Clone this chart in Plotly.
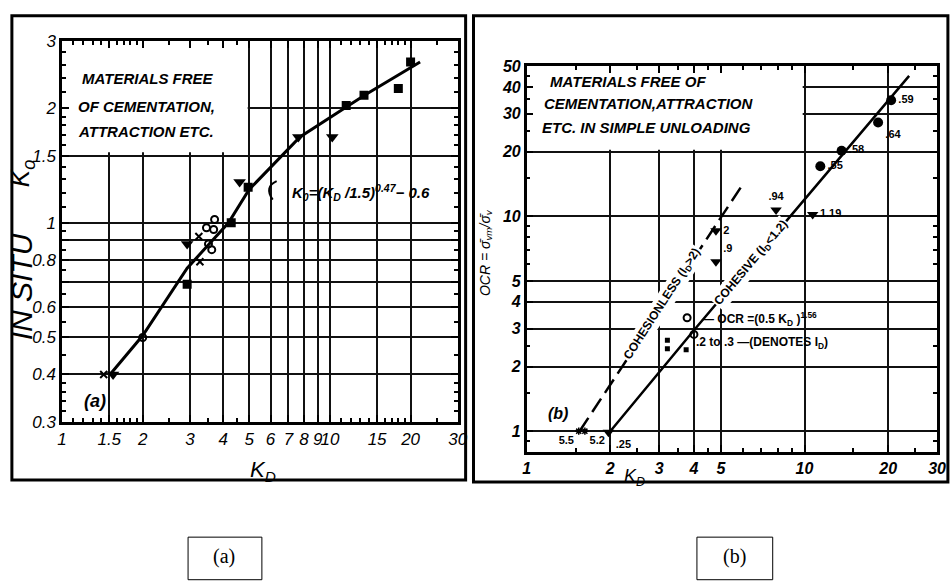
import numpy as np
import plotly.graph_objects as go

W, H = 952, 581

# ---------------- Panel (a) data ----------------
a_line_kd = [1.51, 2.0, 2.93, 4.18, 4.98, 7.73, 11.1, 13.6, 21.7]
a_line_k0 = [0.40, 0.506, 0.76, 1.0, 1.22, 1.68, 1.98, 2.17, 2.64]
a_sq_kd = [2.93, 4.28, 4.95, 11.5, 13.4, 18.0, 20.0]
a_sq_k0 = [0.69, 1.0, 1.24, 2.03, 2.16, 2.25, 2.64]
a_tri_kd = [2.93, 4.6, 7.62, 10.2, 1.55]
a_tri_k0 = [0.88, 1.28, 1.68, 1.68, 0.40]
a_circ_kd = [2.0, 3.46, 3.68, 3.62, 3.52, 3.71]
a_circ_k0 = [0.5, 0.97, 0.96, 0.85, 0.88, 1.02]
a_x_kd = [1.43, 3.27, 3.24]
a_x_k0 = [0.40, 0.79, 0.92]

a_xticks = [1, 1.5, 2, 3, 4, 5, 6, 7, 8, 9, 10, 15, 20, 30]
a_xtext = ["1", "1.5", "2", "3", "4", "5", "6", "7", "8", "9", "10", "15", "20", "30"]
a_yticks = [0.3, 0.4, 0.5, 0.6, 0.7, 0.8, 0.9, 1, 1.5, 2, 3]
a_ytext = ["0.3", "0.4", "0.5", "0.6", "", "0.8", "", "1", "1.5", "2", "3"]
a_xminor = [1.1, 1.2, 1.3, 1.4, 1.6, 1.7, 1.8, 1.9, 2.5, 3.5, 4.5, 11, 12, 13, 14, 16, 17, 18, 19, 25]
a_yminor = [0.32, 0.34, 0.36, 0.38, 0.45, 0.55, 0.65, 0.75, 0.85, 0.95, 1.1, 1.2, 1.3, 1.4, 1.6, 1.7, 1.8, 1.9, 2.2, 2.4, 2.6, 2.8]

# ---------------- Panel (b) data ----------------
b_cohesive_kd = [2.0, 4.0, 23.8]
b_cohesive_ocr = [1.0, 2.95, 45.0]
b_cohesionless_kd = [1.55, 6.0]
b_cohesionless_ocr = [1.0, 14.1]
b_circ_kd = [20.5, 18.4, 13.6, 11.4]
b_circ_ocr = [34.7, 27.3, 20.2, 17.1]
b_circ_lab = [".59", ".64", ".58", ".55"]
b_circ_pos = ["middle right", "bottom right", "middle right", "middle right"]
b_tri_kd = [10.7, 7.9, 4.8, 4.8, 1.97]
b_tri_ocr = [10.2, 10.7, 8.56, 6.14, 0.99]
b_tri_lab = ["1.19", ".94", "2", ".9", ".25"]
b_tri_pos = ["middle right", "top center", "middle right", "top right", "bottom right"]
b_open_kd = [3.78, 4.0]
b_open_ocr = [3.37, 2.82]
b_sq_kd = [3.21, 3.21, 3.75]
b_sq_ocr = [2.65, 2.42, 2.39]
b_star_kd = [1.54, 1.62]
b_star_ocr = [1.0, 1.0]
b_star_lab = ["5.5", "5.2"]
b_star_pos = ["bottom left", "bottom right"]

b_xticks = [1, 2, 3, 4, 5, 10, 20, 30]
b_xtext = ["1", "2", "3", "4", "5", "10", "20", "30"]
b_yticks = [1, 2, 3, 4, 5, 10, 20, 30, 40, 50]
b_ytext = ["1", "2", "3", "4", "5", "10", "20", "30", "40", "50"]
b_xminor = [1.5, 2.5, 3.5, 4.5, 6, 7, 8, 9, 15, 25]
b_yminor = [0.9, 1.5, 2.5, 6, 7, 8, 9, 15, 25, 35, 45]

FONT = "Liberation Sans"


def px(x):
    return x / W


def py(y):
    return 1 - y / H


fig = go.Figure()

# Panel (a) traces
fig.add_trace(go.Scatter(x=a_line_kd, y=a_line_k0, mode="lines",
                         line=dict(color="black", width=3), xaxis="x", yaxis="y"))
fig.add_trace(go.Scatter(x=a_sq_kd, y=a_sq_k0, mode="markers",
                         marker=dict(symbol="square", size=9, color="black"), xaxis="x", yaxis="y"))
fig.add_trace(go.Scatter(x=a_tri_kd, y=a_tri_k0, mode="markers",
                         marker=dict(symbol="triangle-down", size=11, color="black"), xaxis="x", yaxis="y"))
fig.add_trace(go.Scatter(x=a_circ_kd, y=a_circ_k0, mode="markers",
                         marker=dict(symbol="circle-open", size=7, color="black", line=dict(width=2)),
                         xaxis="x", yaxis="y"))
fig.add_trace(go.Scatter(x=a_x_kd, y=a_x_k0, mode="markers",
                         marker=dict(symbol="x-thin-open", size=7, color="black", line=dict(width=2)),
                         xaxis="x", yaxis="y"))

# Panel (b) traces
fig.add_trace(go.Scatter(x=b_cohesionless_kd, y=b_cohesionless_ocr, mode="lines",
                         line=dict(color="black", width=2.5, dash="16px,7px"), xaxis="x2", yaxis="y2"))
fig.add_trace(go.Scatter(x=b_cohesive_kd, y=b_cohesive_ocr, mode="lines",
                         line=dict(color="black", width=2.5), xaxis="x2", yaxis="y2"))
lab_font = dict(family=FONT, size=11, color="black", weight="bold")
fig.add_trace(go.Scatter(x=b_circ_kd, y=b_circ_ocr, mode="markers+text", text=b_circ_lab,
                         textposition=b_circ_pos, textfont=lab_font,
                         marker=dict(symbol="circle", size=10, color="black"), xaxis="x2", yaxis="y2"))
fig.add_trace(go.Scatter(x=b_tri_kd, y=b_tri_ocr, mode="markers+text", text=b_tri_lab,
                         textposition=b_tri_pos, textfont=lab_font,
                         marker=dict(symbol="triangle-down", size=10, color="black"), xaxis="x2", yaxis="y2"))
fig.add_trace(go.Scatter(x=b_open_kd, y=b_open_ocr, mode="markers",
                         marker=dict(symbol="circle-open", size=7, color="black", line=dict(width=2)),
                         xaxis="x2", yaxis="y2"))
fig.add_trace(go.Scatter(x=b_sq_kd, y=b_sq_ocr, mode="markers",
                         marker=dict(symbol="square", size=5, color="black"), xaxis="x2", yaxis="y2"))
fig.add_trace(go.Scatter(x=b_star_kd, y=b_star_ocr, mode="markers+text", text=b_star_lab,
                         textposition=b_star_pos, textfont=lab_font,
                         marker=dict(symbol="asterisk-open", size=6, color="black", line=dict(width=1.5)),
                         xaxis="x2", yaxis="y2"))

tickfont_a = dict(family=FONT, size=17, color="black", style="italic")
tickfont_b = dict(family=FONT, size=16, color="black", style="italic", weight="bold")
common = dict(type="log", showline=True, linecolor="black", linewidth=2.5, mirror="allticks",
              ticks="inside", ticklen=7, tickwidth=1.5, tickcolor="black", tickangle=0,
              showgrid=True, gridcolor="#111", gridwidth=1.6, zeroline=False, tickmode="array")

fig.update_layout(
    width=W, height=H, margin=dict(l=0, r=0, t=0, b=0),
    paper_bgcolor="white", plot_bgcolor="white", showlegend=False,
    xaxis=dict(common, domain=[px(58), px(460)], range=[0, np.log10(30)], anchor="y",
               tickvals=a_xticks, ticktext=a_xtext, tickfont=tickfont_a,
               minor=dict(tickmode="array", tickvals=a_xminor, ticks="inside", ticklen=4,
                          tickcolor="black", showgrid=False)),
    yaxis=dict(common, domain=[py(427), py(33)], range=[np.log10(0.3), np.log10(3)], anchor="x",
               tickvals=a_yticks, ticktext=a_ytext, tickfont=tickfont_a,
               minor=dict(tickmode="array", tickvals=a_yminor, ticks="inside", ticklen=4,
                          tickcolor="black", showgrid=False)),
    xaxis2=dict(common, domain=[px(530), px(947)], range=[0, np.log10(30)], anchor="y2",
                tickvals=b_xticks, ticktext=b_xtext, tickfont=tickfont_b,
                minor=dict(tickmode="array", tickvals=b_xminor, ticks="inside", ticklen=4,
                           tickcolor="black", showgrid=False)),
    yaxis2=dict(common, domain=[py(458), py(59)], range=[np.log10(0.8), np.log10(50)], anchor="x2",
                tickvals=b_yticks, ticktext=b_ytext, tickfont=tickfont_b,
                minor=dict(tickmode="array", tickvals=b_yminor, ticks="inside", ticklen=4,
                           tickcolor="black", showgrid=False)),
)

shapes = [
    dict(type="rect", xref="x", yref="y", x0=1, x1=4.93, y0=1.53, y1=3,
         fillcolor="white", line=dict(width=0), layer="between"),
    dict(type="rect", xref="x2", yref="y2", x0=1, x1=9.85, y0=20.4, y1=50,
         fillcolor="white", line=dict(width=0), layer="between"),
    dict(type="rect", xref="paper", yref="paper", x0=px(7), x1=px(468), y0=py(487), y1=py(7),
         line=dict(color="black", width=3)),
    dict(type="rect", xref="paper", yref="paper", x0=px(476), x1=px(958), y0=py(489), y1=py(7),
         line=dict(color="black", width=3)),
    dict(type="rect", xref="paper", yref="paper", x0=px(186), x1=px(261), y0=py(590), y1=py(546),
         line=dict(color="black", width=1)),
    dict(type="rect", xref="paper", yref="paper", x0=px(703), x1=px(780), y0=py(590), y1=py(546),
         line=dict(color="black", width=1)),
    dict(type="path", xref="paper", yref="paper",
         path="M %f,%f Q %f,%f %f,%f" % (px(276), py(178), px(263), py(184), px(272), py(197)),
         line=dict(color="black", width=2)),
]

box_font = dict(family=FONT, size=15, color="black", style="italic", weight="bold")
ann_font = dict(family=FONT, size=12, color="black", weight="bold")


def A(x, y, text, font, xanchor="left", angle=0, **kw):
    d = dict(x=px(x), y=py(y), xref="paper", yref="paper", text=text, showarrow=False,
             font=font, xanchor=xanchor, yanchor="middle", textangle=angle)
    d.update(kw)
    return d


annotations = [
    A(76, 72, "MATERIALS FREE", box_font),
    A(72, 101, "OF CEMENTATION,", box_font),
    A(72, 127, "ATTRACTION ETC.", box_font),
    A(290, 190, "K<sub>0</sub>=(K<sub>D</sub> /1.5)<sup>0.47</sup>− 0.6",
      dict(family=FONT, size=15, color="black", style="italic", weight="bold")),
    A(78, 405, "(a)", dict(family=FONT, size=18, color="black", style="italic", weight="bold")),
    A(17, 287, "IN SITU", dict(family=FONT, size=30, color="black", style="italic"),
      xanchor="center", angle=-90),
    A(17, 170, "K<sub>o</sub>", dict(family=FONT, size=26, color="black", style="italic"),
      xanchor="center", angle=-90),
    A(262, 478, "K<sub>D</sub>", dict(family=FONT, size=22, color="black", style="italic"),
      xanchor="center"),
    A(552, 75, "MATERIALS FREE OF", box_font),
    A(546, 98, "CEMENTATION,ATTRACTION", box_font),
    A(544, 122, "ETC. IN SIMPLE UNLOADING", box_font),
    A(706, 320, "— OCR =(0.5 K<sub>D</sub> )<sup>1.56</sup>", ann_font),
    A(700, 345, ".2 to .3 —(DENOTES I<sub>D</sub>)", ann_font),
    A(550, 418, "(b)", dict(family=FONT, size=16, color="black", style="italic", weight="bold")),
    A(488, 252, "OCR = σ̄<sub>vm</sub>/σ̄<sub>v</sub>",
      dict(family=FONT, size=14, color="black", style="italic"), xanchor="center", angle=-90),
    A(640, 484, "K<sub>D</sub>", dict(family=FONT, size=18, color="black", style="italic"),
      xanchor="center"),
    A(223, 566, "(a)", dict(family="Liberation Serif", size=20, color="black"), xanchor="center"),
    A(741, 566, "(b)", dict(family="Liberation Serif", size=20, color="black"), xanchor="center"),
    dict(x=np.log10(3.09), y=np.log10(3.89), xref="x2", yref="y2", showarrow=False,
         text="COHESIONLESS (I<sub>D</sub>&gt;2)", textangle=-57, bgcolor="white",
         font=dict(family=FONT, size=12, color="black", weight="bold")),
    dict(x=np.log10(6.44), y=np.log10(6.08), xref="x2", yref="y2", showarrow=False,
         text="COHESIVE (I<sub>D</sub>&lt;1.2)", textangle=-50, bgcolor="white",
         font=dict(family=FONT, size=12, color="black", weight="bold")),
]

fig.update_layout(shapes=shapes, annotations=annotations)
fig.write_html("out.html", config={"displayModeBar": False},
               post_script="document.body.style.margin='0px';document.body.style.overflow='hidden';")
